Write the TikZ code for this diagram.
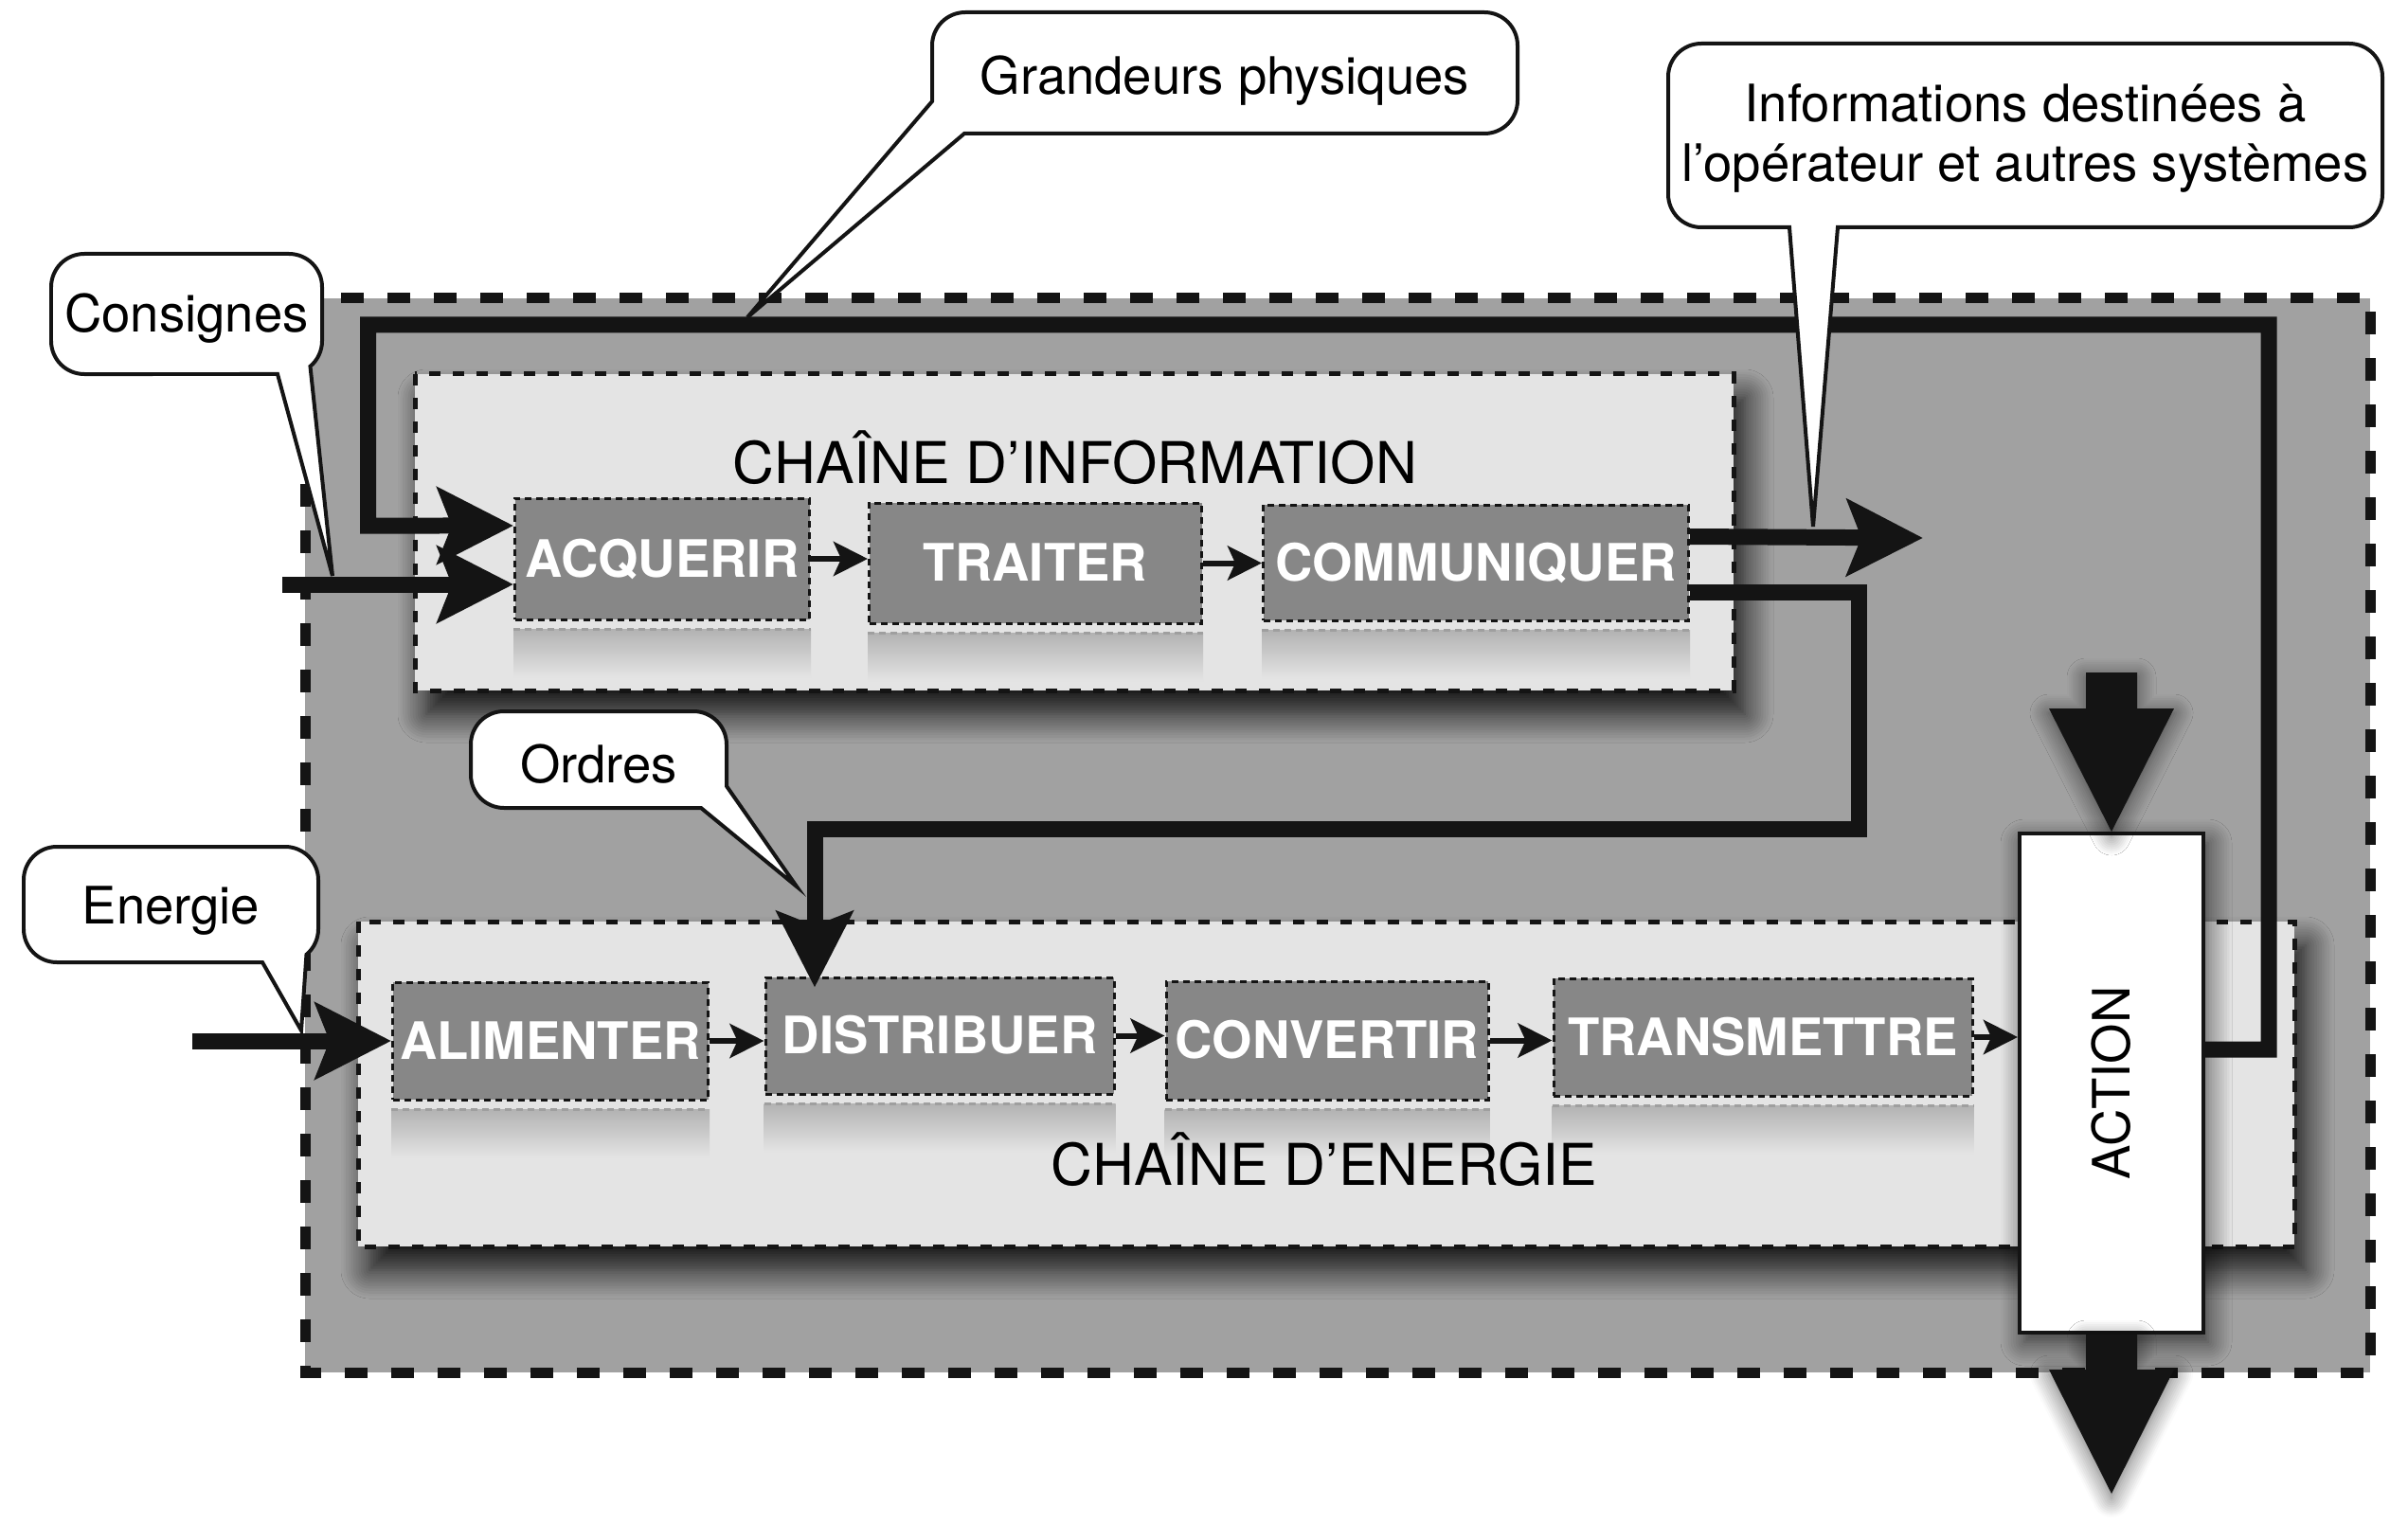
\documentclass[tikz,border=0pt]{standalone}
\usepackage{fontspec}
\setmainfont{TeX Gyre Heros}
\usetikzlibrary{arrows.meta,positioning,shadows.blur}

\definecolor{encre}{gray}{0.08}
\definecolor{fondgris}{gray}{0.63}
\definecolor{chainegris}{gray}{0.894}
\definecolor{fctgris}{gray}{0.53}
\definecolor{refletgris}{gray}{0.70}

\begin{document}
\begin{tikzpicture}[
  font=\fontsize{15.5pt}{18pt}\selectfont,
  fond/.style    = {fill=fondgris, draw=encre, line width=0.11cm,
                    dash pattern=on 0.24cm off 0.25cm},
  chaine/.style  = {fill=chainegris, draw=encre, line width=0.05cm,
                    dash pattern=on 0.12cm off 0.13cm,
                    blur shadow={shadow xshift=0.12cm, shadow yshift=-0.25cm,
                                 shadow blur radius=0.3cm, shadow blur steps=12,
                                 shadow opacity=90}},
  fct/.style     = {fill=fctgris, draw=encre, line width=0.03cm,
                    dash pattern=on 0.07cm off 0.05cm, text=white,
                    font=\fontsize{15.5pt}{18pt}\selectfont\bfseries,
                    text height=11pt, text depth=0pt, inner sep=0pt},
  reflet/.style  = {top color=refletgris, bottom color=chainegris},
  refbord/.style = {gray!75, line width=0.03cm, dash pattern=on 0.07cm off 0.05cm},
  titre/.style   = {font=\fontsize{17.3pt}{20pt}\selectfont, anchor=base},
  actbox/.style  = {fill=white, draw=encre, line width=0.04cm, inner sep=0pt,
                    minimum width=1.94cm, minimum height=5.27cm,
                    blur shadow={shadow xshift=0.05cm, shadow yshift=-0.1cm,
                                 shadow blur radius=0.25cm, shadow blur steps=10,
                                 shadow opacity=70}},
  fil/.style     = {draw=encre, line width=0.17cm},
  grosse/.style  = {fil, -{Stealth[length=8mm, width=8mm, inset=1.5mm]}},
  petite/.style  = {draw=encre, line width=0.06cm,
                    -{Stealth[length=3.6mm, width=3.6mm, inset=0.8mm]}},
  massive/.style = {fill=encre,
                    blur shadow={shadow xshift=0cm, shadow yshift=-0.05cm,
                                 shadow blur radius=0.2cm, shadow blur steps=10,
                                 shadow opacity=60}},
  bulle/.style   = {draw=encre, fill=white, line width=0.04cm},
]
\useasboundingbox (0,0) rectangle (25.42,-16.08);

%% ---- systeme ---------------------------------------------------------------
\path[fond] (3.22,-3.15) rectangle (25.02,-14.49);

%% ---- les deux chaines ------------------------------------------------------
\path[chaine] (4.38,-3.95) rectangle (18.30,-7.29);
\path[chaine] (3.78,-9.73) rectangle (24.22,-13.16);

\node[fct, minimum width=3.11cm, minimum height=1.28cm] (acq) at (6.99,-5.90)   {ACQUERIR};
\node[fct, minimum width=3.51cm, minimum height=1.27cm] (tra) at (10.93,-5.945) {TRAITER};
\node[fct, minimum width=4.49cm, minimum height=1.22cm] (com) at (15.58,-5.94)  {COMMUNIQUER};
\node[fct, minimum width=3.33cm, minimum height=1.24cm] (ali) at (5.81,-10.99)  {ALIMENTER};
\node[fct, minimum width=3.68cm, minimum height=1.23cm] (dis) at (9.92,-10.935) {DISTRIBUER};
\node[fct, minimum width=3.40cm, minimum height=1.25cm] (con) at (14.01,-10.985) {CONVERTIR};
\node[fct, minimum width=4.42cm, minimum height=1.24cm] (tsm) at (18.61,-10.95) {TRANSMETTRE};

\foreach \f in {acq,tra,com,ali,dis,con,tsm} {
  \shade[reflet] ([yshift=-0.09cm]\f.south west) rectangle ([yshift=-0.6cm]\f.south east);
  \draw[refbord] ([yshift=-0.09cm]\f.south west) -- ([yshift=-0.09cm]\f.south east);
}

\node[titre] (titinfo) at (11.35,-5.10) {CHAÎNE D’INFORMATION};
\node[titre] (titener) at (13.98,-12.51) {CHAÎNE D’ENERGIE};

\node[actbox] (action) at (22.29,-11.435) {\rotatebox{90}{ACTION}};

%% ---- liaisons internes -----------------------------------------------------
\draw[petite] (acq.east) -- (acq.east -| tra.west);
\draw[petite] (tra.east) -- (tra.east -| com.west);
\draw[petite] (ali.east) -- (ali.east -| dis.west);
\draw[petite] (dis.east) -- (dis.east -| con.west);
\draw[petite] (con.east) -- (con.east -| tsm.west);
\draw[petite] (tsm.east) -- (tsm.east -| action.west);

%% ---- flux principaux -------------------------------------------------------
\coordinate (consin) at (2.98,-6.17);
\coordinate (enerin) at (2.03,-10.99);
\coordinate (infout) at (20.30,-5.68);
\draw[grosse] (consin) -- (consin -| acq.west);
\draw[grosse] (enerin) -- (ali.west);
\draw[grosse] ([yshift=0.355cm]action.east) -| (23.95,-3.43) -| (3.885,-5.55)
  -- ([yshift=0.35cm]acq.west);
\draw[grosse, shorten >=-0.12cm] ([yshift=-0.315cm]com.east) -| (19.62,-8.75)
  -| ([xshift=-1.32cm]dis.north);
\draw[grosse] ([yshift=0.275cm]com.east) -- (infout);

\path[massive] (action.north) -- ++(-0.66,1.30) -- ++(0.39,0) -- ++(0,0.38)
  -- ++(0.54,0) -- ++(0,-0.38) -- ++(0.39,0) -- cycle;
\path[massive] ([xshift=-0.27cm]action.south) -- ++(0,-0.37) -- ++(-0.39,0)
  -- ++(0.66,-1.31) -- ++(0.66,1.31) -- ++(-0.39,0) -- ++(0,0.37) -- cycle;

%% ---- bulles ----------------------------------------------------------------
\path[bulle] (10.18,-1.41) -- (7.89,-3.35) -- (9.84,-1.07) -- (9.84,-0.48)
  arc[start angle=180, end angle=90, radius=0.35] -- (15.67,-0.13)
  arc[start angle=90, end angle=0, radius=0.35] -- (16.02,-1.06)
  arc[start angle=0, end angle=-90, radius=0.35] -- cycle;
\path[bulle] (2.93,-3.95) -- (3.51,-6.08) -- (3.275,-3.868)
  arc[start angle=-50, end angle=0, radius=0.35] -- (3.40,-3.03)
  arc[start angle=0, end angle=90, radius=0.35] -- (0.89,-2.68)
  arc[start angle=90, end angle=180, radius=0.35] -- (0.54,-3.60)
  arc[start angle=180, end angle=270, radius=0.35] -- cycle;
\path[bulle] (18.89,-2.40) -- (19.14,-5.56) -- (19.40,-2.40) -- (24.80,-2.40)
  arc[start angle=-90, end angle=0, radius=0.35] -- (25.15,-0.81)
  arc[start angle=0, end angle=90, radius=0.35] -- (17.96,-0.46)
  arc[start angle=90, end angle=180, radius=0.35] -- (17.61,-2.05)
  arc[start angle=180, end angle=270, radius=0.35] -- cycle;
\path[bulle] (7.40,-8.53) -- (8.41,-9.36) -- (7.67,-8.30) -- (7.67,-7.86)
  arc[start angle=0, end angle=90, radius=0.35] -- (5.32,-7.51)
  arc[start angle=90, end angle=180, radius=0.35] -- (4.97,-8.18)
  arc[start angle=180, end angle=270, radius=0.35] -- cycle;
\path[bulle] (2.77,-10.16) -- (3.18,-10.88) -- (3.235,-10.078)
  arc[start angle=-50, end angle=0, radius=0.35] -- (3.36,-9.29)
  arc[start angle=0, end angle=90, radius=0.35] -- (0.60,-8.94)
  arc[start angle=90, end angle=180, radius=0.35] -- (0.25,-9.81)
  arc[start angle=180, end angle=270, radius=0.35] -- cycle;

\node (grand)  at (12.93,-0.855) {Grandeurs physiques};
\node (consig) at (1.97,-3.365)  {Consignes};
\node[align=center] (infos) at (21.38,-1.46)
  {Informations destinées à\\l’opérateur et autres systèmes};
\node (ordres) at (6.32,-8.065)  {Ordres};
\node (energ)  at (1.805,-9.62)  {Energie};

\end{tikzpicture}
\end{document}
